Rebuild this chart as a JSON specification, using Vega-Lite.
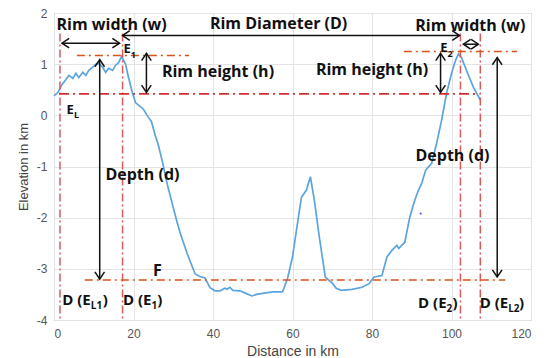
{
  "$schema": "https://vega.github.io/schema/vega-lite/v6.json",
  "width": 477,
  "height": 307,
  "autosize": "none",
  "padding": {"left": 54, "top": 13, "right": 15, "bottom": 38},
  "background": "white",
  "config": {
    "view": {"stroke": "#8a8a8a", "strokeWidth": 1},
    "axis": {
      "grid": true, "gridColor": "#e4e4e4", "domain": false, "ticks": false,
      "labelFont": "Liberation Sans", "labelFontSize": 12, "labelColor": "#555",
      "titleFont": "Liberation Sans", "titleFontWeight": "normal", "titleColor": "#444"
    },
    "text": {"font": "Open Sans", "fontWeight": "bold", "color": "#111"}
  },
  "datasets": {
    "profile": [
      {"x": 0, "y": 0.38}, {"x": 1, "y": 0.45}, {"x": 2, "y": 0.6}, {"x": 3, "y": 0.7},
      {"x": 3.75, "y": 0.78}, {"x": 4.75, "y": 0.72}, {"x": 5.5, "y": 0.82}, {"x": 6.25, "y": 0.74},
      {"x": 7.25, "y": 0.84}, {"x": 8, "y": 0.78}, {"x": 8.75, "y": 0.88}, {"x": 9.75, "y": 0.94},
      {"x": 10.5, "y": 1.0}, {"x": 11.25, "y": 1.01}, {"x": 12.25, "y": 0.94}, {"x": 13, "y": 0.84},
      {"x": 13.75, "y": 0.92}, {"x": 14.75, "y": 0.88}, {"x": 15.5, "y": 0.98}, {"x": 16.25, "y": 1.03},
      {"x": 17, "y": 1.15}, {"x": 18, "y": 1.0}, {"x": 18.75, "y": 0.74}, {"x": 19.75, "y": 0.43},
      {"x": 20.5, "y": 0.25}, {"x": 21.25, "y": 0.2}, {"x": 22.5, "y": 0.12}, {"x": 23.75, "y": -0.04},
      {"x": 24.5, "y": -0.12}, {"x": 25.5, "y": -0.4}, {"x": 26.25, "y": -0.58}, {"x": 27.25, "y": -0.9},
      {"x": 28.5, "y": -1.35}, {"x": 30, "y": -1.8}, {"x": 31, "y": -2.1}, {"x": 31.75, "y": -2.3},
      {"x": 33.5, "y": -2.7}, {"x": 35.5, "y": -3.1}, {"x": 36.75, "y": -3.15}, {"x": 38, "y": -3.18},
      {"x": 39.25, "y": -3.37}, {"x": 40.5, "y": -3.43}, {"x": 41.75, "y": -3.43}, {"x": 43, "y": -3.38},
      {"x": 43.5, "y": -3.4}, {"x": 44.25, "y": -3.36}, {"x": 45, "y": -3.42}, {"x": 46.75, "y": -3.43},
      {"x": 48, "y": -3.47}, {"x": 49.75, "y": -3.53}, {"x": 51, "y": -3.5}, {"x": 52.5, "y": -3.48},
      {"x": 55, "y": -3.45}, {"x": 57.5, "y": -3.45}, {"x": 58.75, "y": -3.19}, {"x": 60, "y": -2.77},
      {"x": 61.25, "y": -2.11}, {"x": 62.25, "y": -1.6}, {"x": 63.5, "y": -1.46}, {"x": 64.5, "y": -1.2},
      {"x": 65.5, "y": -1.66}, {"x": 66.75, "y": -2.38}, {"x": 68.25, "y": -3.16}, {"x": 70, "y": -3.28},
      {"x": 71, "y": -3.38}, {"x": 72.25, "y": -3.42}, {"x": 75, "y": -3.4}, {"x": 77.5, "y": -3.36},
      {"x": 79.25, "y": -3.29}, {"x": 80.5, "y": -3.16}, {"x": 82.5, "y": -3.13}, {"x": 83.75, "y": -2.77},
      {"x": 85, "y": -2.64}, {"x": 86.25, "y": -2.54}, {"x": 86.75, "y": -2.6}, {"x": 88.25, "y": -2.48},
      {"x": 89.5, "y": -1.99}, {"x": 90.75, "y": -1.66}, {"x": 91.75, "y": -1.45}, {"x": 92.5, "y": -1.33},
      {"x": 93.5, "y": -1.07}, {"x": 95, "y": -0.94}, {"x": 96.25, "y": -0.55}, {"x": 97.5, "y": -0.1},
      {"x": 98.75, "y": 0.43}, {"x": 100, "y": 0.82}, {"x": 101, "y": 1.07}, {"x": 101.75, "y": 1.2},
      {"x": 102.5, "y": 1.13}, {"x": 103.75, "y": 0.88}, {"x": 105.5, "y": 0.55}, {"x": 107.25, "y": 0.3}
    ],
    "redH": [{"x": 1.25, "y": 0.42, "x2": 107, "y2": 0.42}],
    "redV": [
      {"x": 1.5, "y": 1.6, "x2": 1.5, "y2": -4},
      {"x": 17.25, "y": 1.6, "x2": 17.25, "y2": -4},
      {"x": 102.25, "y": 1.6, "x2": 102.25, "y2": -4},
      {"x": 107.25, "y": 1.6, "x2": 107.25, "y2": -4}
    ],
    "orange": [
      {"x": 5.75, "y": 1.17, "x2": 34, "y2": 1.17},
      {"x": 88, "y": 1.25, "x2": 116.5, "y2": 1.25},
      {"x": 7.75, "y": -3.22, "x2": 113.5, "y2": -3.22}
    ],
    "arrows": [
      {"x": 2, "y": 1.41, "x2": 16.5, "y2": 1.41},
      {"x": 17.25, "y": 1.56, "x2": 102, "y2": 1.56},
      {"x": 103, "y": 1.39, "x2": 106.75, "y2": 1.39},
      {"x": 23.25, "y": 1.21, "x2": 23.25, "y2": 0.45},
      {"x": 97.25, "y": 1.21, "x2": 97.25, "y2": 0.45},
      {"x": 11.5, "y": 1.09, "x2": 11.5, "y2": -3.2},
      {"x": 111.5, "y": 1.13, "x2": 111.5, "y2": -3.16}
    ],
    "heads": [
      {"x": 2, "y": 1.41, "dir": "left"}, {"x": 16.5, "y": 1.41, "dir": "right"},
      {"x": 17.25, "y": 1.56, "dir": "left"}, {"x": 102, "y": 1.56, "dir": "right"},
      {"x": 103, "y": 1.39, "dir": "left"}, {"x": 106.75, "y": 1.39, "dir": "right"},
      {"x": 23.25, "y": 1.21, "dir": "up"}, {"x": 23.25, "y": 0.45, "dir": "down"},
      {"x": 97.25, "y": 1.21, "dir": "up"}, {"x": 97.25, "y": 0.45, "dir": "down"},
      {"x": 11.5, "y": 1.09, "dir": "up"}, {"x": 11.5, "y": -3.2, "dir": "down"},
      {"x": 111.5, "y": 1.13, "dir": "up"}, {"x": 111.5, "y": -3.16, "dir": "down"}
    ],
    "labels": [
      {"t": "Rim width (w)", "x": 14.5, "y": 1.77},
      {"t": "Rim Diameter (D)", "x": 56.5, "y": 1.78},
      {"t": "Rim width (w)", "x": 104.75, "y": 1.75},
      {"t": "Rim height (h)", "x": 41.25, "y": 0.84},
      {"t": "Rim height (h)", "x": 80, "y": 0.88},
      {"t": "Depth (d)", "x": 22.25, "y": -1.17},
      {"t": "Depth (d)", "x": 100.25, "y": -0.8},
      {"t": "F", "x": 26, "y": -3.05}
    ],
    "dmain": [
      {"t": "D (E", "x": 9.25, "y": -3.61},
      {"t": "D (E", "x": 24.5, "y": -3.61},
      {"t": "D (E", "x": 98.75, "y": -3.67},
      {"t": "D (E", "x": 114.25, "y": -3.67}
    ],
    "dsub": [
      {"t": "L1", "x": 9.25, "y": -3.72},
      {"t": "1", "x": 24.5, "y": -3.72},
      {"t": "2", "x": 98.75, "y": -3.78},
      {"t": "L2", "x": 114.25, "y": -3.78}
    ],
    "dclose": [
      {"t": ")", "x": 12.25, "y": -3.61},
      {"t": ")", "x": 26, "y": -3.61},
      {"t": ")", "x": 100.25, "y": -3.67},
      {"t": ")", "x": 117, "y": -3.67}
    ],
    "emain": [
      {"t": "E", "x": 19.3, "y": 1.29},
      {"t": "E", "x": 99, "y": 1.31},
      {"t": "E", "x": 5, "y": 0.1}
    ],
    "esub": [
      {"t": "1", "x": 19.3, "y": 1.18},
      {"t": "2", "x": 99, "y": 1.2},
      {"t": "L", "x": 5, "y": 0.01}
    ],
    "dot": [{"x": 92.25, "y": -1.92}]
  },
  "encoding": {
    "x": {"field": "x", "type": "quantitative", "scale": {"domain": [0, 120], "nice": false},
          "axis": {"values": [0, 20, 40, 60, 80, 100, 120], "title": "Distance in km", "titleFontSize": 14, "labelPadding": 8, "titlePadding": 5}},
    "y": {"field": "y", "type": "quantitative", "scale": {"domain": [-4, 2], "nice": false},
          "axis": {"values": [-4, -3, -2, -1, 0, 1, 2], "title": "Elevation in km", "titleFontSize": 13, "labelPadding": 7, "titlePadding": 6,
                   "labelExpr": "replace(datum.label, '\u2212', '-')"}}
  },
  "layer": [
    {
      "data": {"name": "profile"},
      "mark": {"type": "line", "color": "#5BA4DE", "strokeWidth": 1.7}
    },
    {
      "data": {"name": "redV"},
      "mark": {"type": "rule", "color": "#DB5A5A", "strokeWidth": 1.5, "strokeDash": [8, 3, 2, 3]},
      "encoding": {"x2": {"field": "x2"}, "y2": {"field": "y2"}}
    },
    {
      "data": {"name": "redH"},
      "mark": {"type": "rule", "color": "#D32F2F", "strokeWidth": 1.8, "strokeDash": [10, 4, 2, 4]},
      "encoding": {"x2": {"field": "x2"}, "y2": {"field": "y2"}}
    },
    {
      "data": {"name": "orange"},
      "mark": {"type": "rule", "color": "#D95319", "strokeWidth": 1.5, "strokeDash": [8, 4, 2, 4]},
      "encoding": {"x2": {"field": "x2"}, "y2": {"field": "y2"}}
    },
    {
      "data": {"name": "arrows"},
      "mark": {"type": "rule", "color": "#111", "strokeWidth": 1.5},
      "encoding": {"x2": {"field": "x2"}, "y2": {"field": "y2"}}
    },
    {
      "data": {"name": "heads"},
      "mark": {"type": "point", "filled": false, "stroke": "#111", "strokeWidth": 1.5, "size": 256, "opacity": 1},
      "encoding": {
        "shape": {"field": "dir", "type": "nominal", "legend": null,
                  "scale": {"domain": ["up", "down", "left", "right"],
                            "range": ["M-0.6,0.9L0,0L0.6,0.9", "M-0.6,-0.9L0,0L0.6,-0.9", "M0.9,-0.6L0,0L0.9,0.6", "M-0.9,-0.6L0,0L-0.9,0.6"]}}
      }
    },
    {
      "data": {"name": "dot"},
      "mark": {"type": "point", "filled": true, "color": "#5a5ae6", "size": 5, "opacity": 1}
    },
    {
      "data": {"name": "labels"},
      "mark": {"type": "text", "fontSize": 16, "align": "center", "baseline": "middle"},
      "encoding": {"text": {"field": "t"}}
    },
    {
      "data": {"name": "dmain"},
      "mark": {"type": "text", "fontSize": 15, "align": "right", "baseline": "middle"},
      "encoding": {"text": {"field": "t"}}
    },
    {
      "data": {"name": "dsub"},
      "mark": {"type": "text", "fontSize": 10, "align": "left", "baseline": "middle"},
      "encoding": {"text": {"field": "t"}}
    },
    {
      "data": {"name": "dclose"},
      "mark": {"type": "text", "fontSize": 15, "align": "left", "baseline": "middle"},
      "encoding": {"text": {"field": "t"}}
    },
    {
      "data": {"name": "emain"},
      "mark": {"type": "text", "fontSize": 13, "align": "right", "baseline": "middle"},
      "encoding": {"text": {"field": "t"}}
    },
    {
      "data": {"name": "esub"},
      "mark": {"type": "text", "fontSize": 9, "align": "left", "baseline": "middle"},
      "encoding": {"text": {"field": "t"}}
    }
  ]
}
